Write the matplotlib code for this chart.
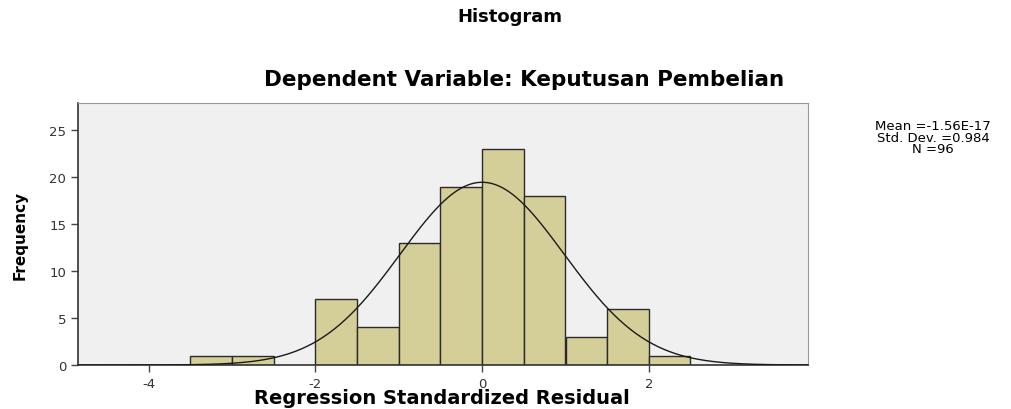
import numpy as np
import matplotlib.pyplot as plt

# histogram bins (left edges) and counts, bin width 0.5
bin_left = [-3.5, -3.0, -2.0, -1.5, -1.0, -0.5, 0.0, 0.5, 1.0, 1.5, 2.0]
counts = [1, 1, 7, 4, 13, 19, 23, 18, 3, 6, 1]
bin_width = 0.5
mean = -1.56e-17
std = 0.984
n = 96

plt.rcParams['font.family'] = ['DejaVu Sans']
plt.rcParams['axes.unicode_minus'] = False

fig = plt.figure(figsize=(10.11, 4.10), dpi=100)
ax = fig.add_axes([78 / 1011, 1 - 366 / 410, 730 / 1011, 262 / 410])
ax.set_facecolor('#f0f0f0')

ax.bar(bin_left, counts, width=bin_width, align='edge', color='#d4cf98',
       edgecolor='#2b2b2b', linewidth=1.0, zorder=2)

xs = np.linspace(-4.85, 3.91, 400)
curve = n * bin_width * np.exp(-0.5 * ((xs - mean) / std) ** 2) / (std * np.sqrt(2 * np.pi))
ax.plot(xs, curve, color='#1a1a1a', linewidth=1.0, zorder=3)

ax.set_xlim(-4.85, 3.91)
ax.set_ylim(0, 27.9)
ax.set_xticks([-4, -2, 0, 2])
ax.set_yticks([0, 5, 10, 15, 20, 25])
ax.tick_params(direction='out', length=5, width=1, colors='#444444', labelsize=9.5,
               labelcolor='#333333')
for s in ['top', 'right']:
    ax.spines[s].set_color('#999999')
for s in ['left', 'bottom']:
    ax.spines[s].set_color('#333333')
    ax.spines[s].set_linewidth(1.2)

fig.text(442 / 1011, 1 - 399 / 410, 'Regression Standardized Residual',
         ha='center', va='center', fontsize=14, fontweight='bold')
fig.text(20 / 1011, 1 - 235 / 410, 'Frequency', ha='center', va='center',
         rotation=90, fontsize=11, fontweight='bold')

fig.text(510 / 1011, 1 - 17 / 410, 'Histogram', ha='center', va='center',
         fontsize=13, fontweight='bold')
fig.text(524 / 1011, 1 - 80 / 410, 'Dependent Variable: Keputusan Pembelian',
         ha='center', va='center', fontsize=15.5, fontweight='bold')
fig.text(933 / 1011, 1 - 138 / 410,
         'Mean =-1.56E-17\nStd. Dev. =0.984\nN =96',
         ha='center', va='center', fontsize=9.5, linespacing=0.85)

fig.savefig('out.png', dpi=100)
